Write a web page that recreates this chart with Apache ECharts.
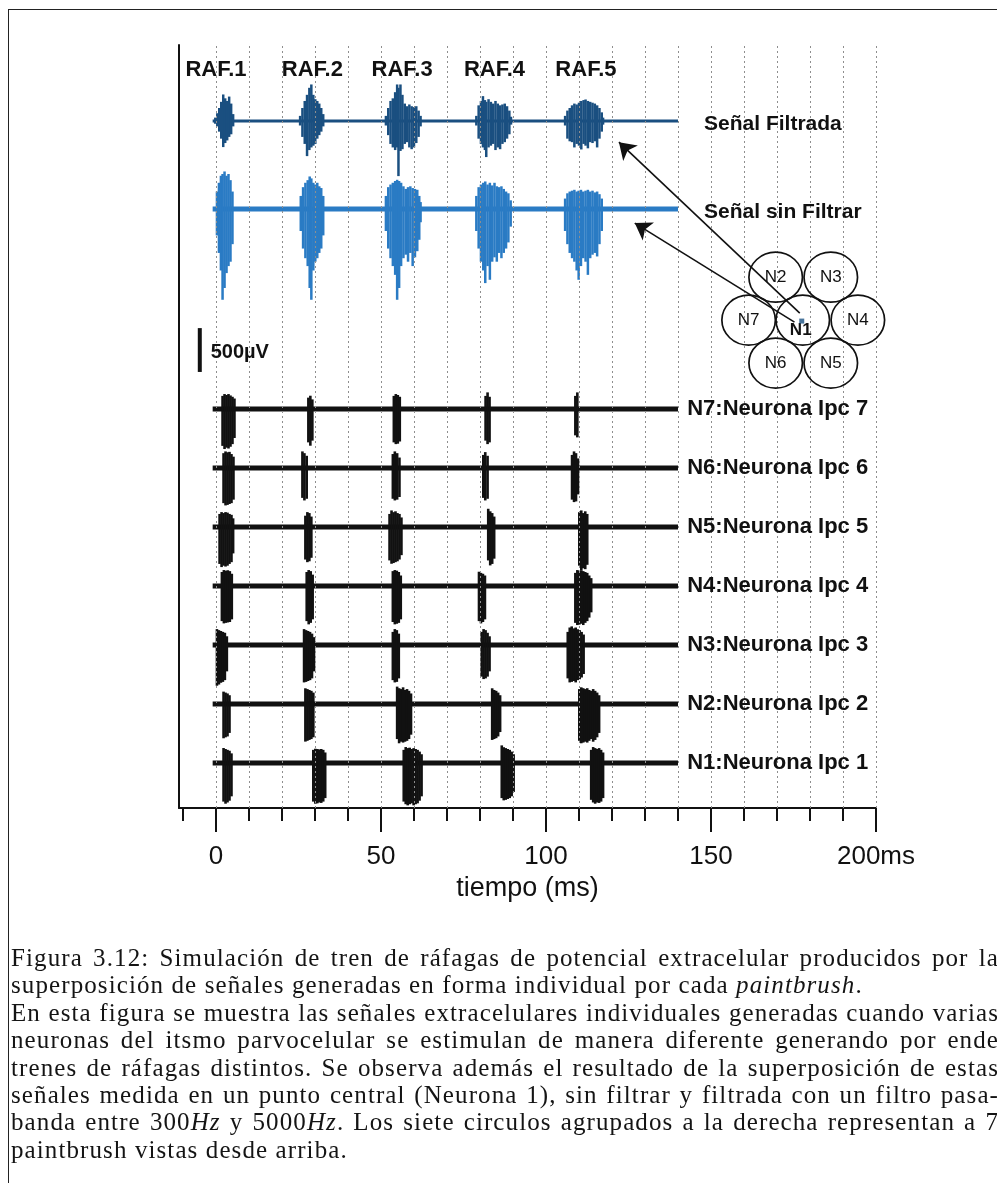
<!DOCTYPE html>
<html>
<head>
<meta charset="utf-8">
<script src="https://cdn.jsdelivr.net/npm/echarts@6/dist/echarts.min.js"></script>
<style>
  body { margin:0; background:#fff; }
  #wrap { position:relative; width:997px; height:1183px; overflow:hidden; background:#fff; }
  #chart { position:absolute; left:0; top:0; width:997px; height:1183px; }
  #frame { position:absolute; left:8px; top:9px; width:1000px; height:1200px; border-left:1.5px solid #222; border-top:1.5px solid #222; }
  #cap { position:absolute; left:11px; top:944px; width:988px; font-family:"Liberation Serif","DejaVu Serif",serif; font-size:25px; letter-spacing:1.1px; line-height:27.4px; color:#141414; }
  #cap div { white-space:nowrap; }
  #cap .j { text-align:justify; text-align-last:justify; }
  #cap .l { text-align:left; }
</style>
</head>
<body>
<div id="wrap">
  <div id="frame"></div>
  <div id="chart"></div>
  <div id="cap">
    <div class="j">Figura 3.12: Simulación de tren de ráfagas de potencial extracelular producidos por la</div>
    <div class="l">superposición de señales generadas en forma individual por cada <i>paintbrush</i>.</div>
    <div class="j">En esta figura se muestra las señales extracelulares individuales generadas cuando varias</div>
    <div class="j">neuronas del itsmo parvocelular se estimulan de manera diferente generando por ende</div>
    <div class="j">trenes de ráfagas distintos. Se observa además el resultado de la superposición de estas</div>
    <div class="j">señales medida en un punto central (Neurona 1), sin filtrar y filtrada con un filtro pasa-</div>
    <div class="j">banda entre 300<i>Hz</i> y 5000<i>Hz</i>. Los siete circulos agrupados a la derecha representan a 7</div>
    <div class="l">paintbrush vistas desde arriba.</div>
  </div>
</div>
<script>
// ---------------- DATA ----------------
// time axis (ms)
const xMinorTicks = [-10,0,10,20,30,40,50,60,70,80,90,100,110,120,130,140,150,160,170,180,190,200];
const xMajorTicks = [0,50,100,150,200];
const xTickLabels = ['0','50','100','150','200ms'];
const gridLineTimes = [0,10,20,30,40,50,60,70,80,90,100,110,120,130,140,150,160,170,180,190,200];
const traceSpan = [-1, 140];

// burst labels
const rafLabels = ['RAF.1','RAF.2','RAF.3','RAF.4','RAF.5'];
const rafTimes = [0, 29.2, 56.4, 84.4, 112.1];
const rafLevel = 8413;

// trace names and baselines (µV offset on the stacked display)
const traceNames = ['Señal Filtrada','Señal sin Filtrar','N7:Neurona Ipc 7','N6:Neurona Ipc 6','N5:Neurona Ipc 5','N4:Neurona Ipc 4','N3:Neurona Ipc 3','N2:Neurona Ipc 2','N1:Neurona Ipc 1'];
const traceBaselines = [7832, 6829, 4549, 3876, 3203, 2531, 1858, 1186, 513];
const traceLabelLevels = [7798, 6794, 4549, 3876, 3203, 2531, 1858, 1186, 513];

// spikes: [time ms, amplitude up µV, amplitude down µV]
const filteredSpikes = [
  [-0.2,40,30],[0.4,90,60],[1.0,150,120],[1.6,220,200],[2.2,304,296],[2.8,260,250],[3.4,230,220],[4.0,280,180],[4.6,200,150],[5.2,80,60],
  [25.5,60,50],[26.2,150,180],[26.9,230,260],[27.6,300,399],[28.3,380,330],[28.9,418,300],[29.5,300,280],[30.1,250,260],[30.7,230,200],[31.3,200,160],[31.9,150,120],[32.5,80,60],
  [51.5,60,50],[52.2,150,160],[52.9,230,260],[53.6,260,300],[54.3,330,330],[54.9,418,300],[55.3,380,627],[55.9,418,340],[56.5,300,320],[57.2,200,260],[57.9,170,240],[58.6,190,300],[59.3,170,320],[60.0,160,300],[60.7,170,250],[61.4,120,180],[62.0,60,60],
  [78.9,60,50],[79.6,180,200],[80.3,230,260],[80.9,285,300],[81.5,240,330],[81.9,220,410],[82.6,250,300],[83.3,220,280],[84.0,200,260],[84.7,230,330],[85.4,200,300],[86.1,180,320],[86.8,190,260],[87.5,200,240],[88.2,170,200],[88.9,120,150],[89.4,50,40],
  [105.8,60,50],[106.5,120,200],[107.2,150,230],[107.9,180,240],[108.6,200,300],[109.3,190,260],[110.0,210,280],[110.7,230,323],[111.4,240,260],[112.0,247,280],[112.7,230,310],[113.4,220,240],[114.1,210,250],[114.8,200,230],[115.5,180,300],[116.2,150,200],[116.9,100,120],[117.3,40,40]
];
const unfilteredSpikes = [
  [0.3,200,300],[0.9,300,500],[1.5,380,700],[2.0,400,1034],[2.6,429,900],[3.2,380,730],[3.8,400,650],[4.4,330,600],[5.0,200,400],
  [25.7,150,250],[26.4,250,450],[27.1,300,560],[27.8,330,650],[28.4,372,900],[28.9,350,1034],[29.5,300,700],[30.1,280,600],[30.7,300,560],[31.3,260,500],[31.9,240,450],[32.5,150,300],
  [51.5,150,250],[52.2,250,450],[52.9,280,560],[53.6,300,650],[54.3,320,750],[54.9,334,1034],[55.5,320,900],[56.1,300,650],[56.8,260,560],[57.5,230,520],[58.2,250,600],[58.9,260,500],[59.6,240,650],[60.3,230,550],[61.0,220,480],[61.6,150,350],[62.0,80,150],
  [78.9,150,250],[79.6,250,450],[80.3,280,600],[81.0,300,700],[81.6,315,844],[82.3,280,650],[83.0,300,806],[83.7,270,600],[84.4,300,550],[85.1,260,600],[85.8,250,500],[86.5,260,560],[87.2,230,500],[87.9,200,450],[88.6,180,380],[89.3,100,200],
  [105.8,120,250],[106.5,180,400],[107.2,200,500],[107.9,210,560],[108.6,220,600],[109.3,200,700],[109.9,210,806],[110.6,220,650],[111.3,200,560],[112.0,210,600],[112.7,220,750],[113.4,200,560],[114.1,210,520],[114.8,190,500],[115.5,200,540],[116.2,170,400],[116.9,120,250]
];
const n7Spikes = [
  [2.0,150,420],[2.6,171,456],[3.2,160,440],[3.8,171,450],[4.4,155,430],[5.0,140,400],[5.6,120,330],
  [28.0,130,380],[28.6,152,418],[29.2,110,360],
  [53.9,150,380],[54.5,171,400],[55.1,160,395],[55.7,140,370],
  [81.7,150,360],[82.3,190,400],[82.9,140,380],
  [108.9,150,300],[109.5,190,323]
];
const n6Spikes = [
  [2.3,170,400],[2.9,190,426],[3.5,180,420],[4.1,185,410],[4.7,160,400],[5.3,130,360],
  [26.2,190,340],[26.8,170,369],[27.5,140,350],
  [53.6,160,350],[54.2,190,369],[54.9,170,360],[55.6,120,330],
  [81.0,150,340],[81.6,182,369],[82.3,140,350],
  [107.9,150,360],[108.5,190,388],[109.1,170,380],[109.7,110,300]
];
const n5Spikes = [
  [1.1,150,420],[1.7,171,456],[2.3,160,440],[2.9,171,450],[3.5,165,440],[4.1,150,420],[4.7,140,400],[5.2,100,300],
  [27.1,130,370],[27.7,171,400],[28.3,160,390],[28.9,120,350],
  [52.6,150,380],[53.2,190,418],[53.8,170,410],[54.4,180,400],[55.0,160,390],[55.6,150,370],[56.2,110,320],
  [82.5,209,380],[83.1,180,437],[83.7,160,420],[84.3,120,360],
  [110.1,170,440],[110.7,190,494],[111.3,160,470],[111.9,180,480],[112.5,150,430]
];
const n4Spikes = [
  [1.8,160,400],[2.4,182,426],[3.0,175,420],[3.6,180,415],[4.2,170,410],[4.8,140,380],
  [27.5,160,400],[28.1,182,437],[28.7,170,420],[29.3,130,380],
  [53.6,170,410],[54.2,182,437],[54.8,175,430],[55.4,160,420],[56.0,120,380],
  [79.7,163,400],[80.3,150,426],[80.9,140,410],[81.5,120,380],
  [108.9,150,420],[109.5,182,445],[110.1,175,440],[110.7,180,430],[111.3,170,445],[111.9,160,420],[112.5,150,400],[113.1,120,360],[113.7,90,300]
];
const n3Spikes = [
  [0.3,182,464],[0.9,170,450],[1.5,160,430],[2.1,150,420],[2.7,140,400],[3.3,100,300],
  [26.7,182,426],[27.3,170,420],[27.9,160,410],[28.5,150,400],[29.1,130,380],[29.7,90,300],
  [53.6,150,400],[54.2,182,426],[54.8,170,420],[55.4,130,380],
  [80.5,150,360],[81.1,182,388],[81.7,170,380],[82.3,140,360],[82.9,100,300],
  [106.6,150,380],[107.2,200,426],[107.8,213,420],[108.4,190,410],[109.0,200,426],[109.6,180,400],[110.2,170,390],[110.8,150,370],[111.4,120,330]
];
const n2Spikes = [
  [2.3,141,391],[2.9,130,380],[3.5,120,370],[4.1,100,330],
  [27.1,179,429],[27.7,170,420],[28.3,160,410],[28.9,150,400],[29.5,130,380],
  [54.9,198,400],[55.5,180,448],[56.1,170,430],[56.7,190,440],[57.3,160,430],[57.9,170,420],[58.5,150,400],[59.1,120,350],
  [83.7,179,410],[84.3,160,400],[84.9,150,390],[85.5,130,370],[86.1,100,320],
  [110.1,170,420],[110.7,190,448],[111.3,180,440],[111.9,170,430],[112.5,180,440],[113.1,160,420],[113.7,150,400],[114.3,170,430],[114.9,150,410],[115.5,130,380],[116.1,100,330]
];
const n1Spikes = [
  [2.3,171,440],[2.9,160,464],[3.5,150,450],[4.1,140,430],[4.7,110,380],
  [29.5,150,440],[30.1,163,464],[30.7,160,460],[31.3,155,450],[31.9,160,455],[32.5,150,440],[33.1,120,400],
  [56.9,150,440],[57.5,182,470],[58.1,170,483],[58.7,175,470],[59.3,160,460],[59.9,170,483],[60.5,160,470],[61.1,150,460],[61.7,130,430],[62.3,100,380],
  [86.6,201,400],[87.2,180,426],[87.8,170,420],[88.4,160,410],[89.0,150,400],[89.6,130,380],[90.2,100,330],
  [113.7,150,420],[114.3,182,450],[114.9,170,464],[115.5,160,450],[116.1,170,455],[116.7,150,440],[117.3,120,400]
];
const traceSpikes = [filteredSpikes, unfilteredSpikes, n7Spikes, n6Spikes, n5Spikes, n4Spikes, n3Spikes, n2Spikes, n1Spikes];

// scale bar (500 µV)
const scaleBarTime = -4.9;
const scaleBarFrom = 4972;
const scaleBarTo = 5472;
const scaleBarLabel = '500µV';
const scaleBarLabelPos = [-1.6, 5198];

// paintbrush diagram (centres in time / µV display coordinates)
const circleNames = ['N2','N3','N7','N1','N4','N6','N5'];
const circleTimes = [169.6, 186.3, 161.4, 177.8, 194.5, 169.6, 186.3];
const circleLevels = [6053, 6053, 5563, 5563, 5563, 5073, 5073];
const electrodePos = [177.5, 5552];

// arrows from N1 to the recorded signals
const arrowFrom = [[176.9, 5643], [175.3, 5540]];
const arrowTo = [[122.1, 7592], [126.9, 6669]];

// ---------------- STYLE / OPTION ----------------
const traceColors = ['#1a4f80', '#2a7bc4', '#111', '#111', '#111', '#111', '#111', '#111', '#111'];
const baseWidths = [3, 5, 5, 5, 5, 5, 5, 5, 5];
const spikeWidths = [2.5, 2.5, 2.6, 2.6, 2.6, 2.6, 2.6, 2.6, 2.6];
const SANS = '"Liberation Sans", Arial, Helvetica, sans-serif';

function spikeSeries(i) {
  const base = traceBaselines[i];
  return {
    type: 'custom', coordinateSystem: 'cartesian2d', silent: true, z: 4,
    data: traceSpikes[i].map(s => [s[0], base + s[1], base - s[2]]),
    encode: { x: 0, y: [1, 2] },
    renderItem: function (params, api) {
      const t = api.value(0);
      const p1 = api.coord([t, api.value(1)]);
      const p2 = api.coord([t, api.value(2)]);
      return { type: 'line', shape: { x1: p1[0], y1: p1[1], x2: p2[0], y2: p2[1] },
               style: { stroke: traceColors[i], lineWidth: spikeWidths[i] } };
    }
  };
}
function baselineSeries(i) {
  return {
    type: 'line', silent: true, symbol: 'none', z: 3,
    data: [[traceSpan[0], traceBaselines[i]], [traceSpan[1], traceBaselines[i]]],
    lineStyle: { color: traceColors[i], width: baseWidths[i] }
  };
}
function textSeries(items, style) {
  return {
    type: 'custom', coordinateSystem: 'cartesian2d', silent: true, z: 10,
    data: items.map(d => [d[0], d[1]]),
    encode: { x: 0, y: 1 },
    renderItem: function (params, api) {
      const p = api.coord([api.value(0), api.value(1)]);
      return { type: 'text', x: p[0], y: p[1],
               style: Object.assign({ text: items[params.dataIndex][2] }, style) };
    }
  };
}

const series = [];
// dotted grid
series.push({
  type: 'line', data: [], silent: true, z: 1,
  markLine: {
    silent: true, symbol: ['none', 'none'], label: { show: false },
    lineStyle: { type: [2, 3], color: '#8e8e8e', width: 1 },
    data: gridLineTimes.map(v => ({ xAxis: v }))
  }
});
for (let i = 0; i < traceBaselines.length; i++) {
  series.push(baselineSeries(i));
  series.push(spikeSeries(i));
}
// RAF labels
series.push(textSeries(rafLabels.map((l, i) => [rafTimes[i], rafLevel, l]),
  { fill: '#111', fontFamily: SANS, fontWeight: 'bold', fontSize: 22, align: 'center', verticalAlign: 'middle' }));
// trace labels (right side)
series.push(textSeries(traceNames.map((l, i) => [147.9, traceLabelLevels[i], l]).slice(0, 2),
  { fill: '#111', fontFamily: SANS, fontWeight: 'bold', fontSize: 21, align: 'left', verticalAlign: 'middle' }));
series.push(textSeries(traceNames.map((l, i) => [142.8, traceLabelLevels[i], l]).slice(2),
  { fill: '#111', fontFamily: SANS, fontWeight: 'bold', fontSize: 22, align: 'left', verticalAlign: 'middle' }));
// scale bar
series.push({
  type: 'custom', coordinateSystem: 'cartesian2d', silent: true, z: 6,
  data: [[scaleBarTime, scaleBarTo, scaleBarFrom]],
  encode: { x: 0, y: [1, 2] },
  renderItem: function (params, api) {
    const p1 = api.coord([api.value(0), api.value(1)]);
    const p2 = api.coord([api.value(0), api.value(2)]);
    return { type: 'line', shape: { x1: p1[0], y1: p1[1], x2: p2[0], y2: p2[1] },
             style: { stroke: '#111', lineWidth: 4 } };
  }
});
series.push(textSeries([[scaleBarLabelPos[0], scaleBarLabelPos[1], scaleBarLabel]],
  { fill: '#111', fontFamily: SANS, fontWeight: 'bold', fontSize: 20, align: 'left', verticalAlign: 'middle' }));
// paintbrush circles
series.push({
  type: 'custom', coordinateSystem: 'cartesian2d', silent: true, z: 7,
  data: circleNames.map((n, i) => [circleTimes[i], circleLevels[i]]),
  encode: { x: 0, y: 1 },
  renderItem: function (params, api) {
    const p = api.coord([api.value(0), api.value(1)]);
    const name = circleNames[params.dataIndex];
    const isN1 = name === 'N1';
    return {
      type: 'group', x: p[0], y: p[1],
      children: [
        { type: 'circle', shape: { cx: 0, cy: 0, r: 25 }, scaleX: 1.07,
          style: { fill: 'rgba(255,255,255,0)', stroke: '#111', lineWidth: 1.6 } },
        { type: 'text', x: isN1 ? -2 : 0, y: isN1 ? 10 : 0,
          style: { text: name, fill: '#111', fontFamily: SANS, fontSize: 17,
                   fontWeight: isN1 ? 'bold' : 'normal', align: 'center', verticalAlign: 'middle' } }
      ]
    };
  }
});
// electrode dot
series.push({
  type: 'scatter', silent: true, z: 8, symbol: 'rect', symbolSize: 5,
  itemStyle: { color: '#1c5283' }, data: [electrodePos]
});
// arrows
series.push({
  type: 'lines', coordinateSystem: 'cartesian2d', silent: true, z: 9,
  symbol: ['none', 'arrow'], symbolSize: 16,
  lineStyle: { color: '#111', width: 1.6, opacity: 1 },
  data: arrowFrom.map((f, i) => ({ coords: [f, arrowTo[i]] }))
});

const option = {
  animation: false,
  backgroundColor: 'transparent',
  grid: { left: 179, right: 121, top: 45, bottom: 375, containLabel: false },
  xAxis: [
    { type: 'value', min: -11.2, max: 200, position: 'bottom',
      axisLine: { show: true, onZero: false, lineStyle: { color: '#111', width: 2 } },
      axisTick: { show: true, customValues: xMinorTicks, length: 13, lineStyle: { color: '#111', width: 2 } },
      axisLabel: { show: false }, splitLine: { show: false } },
    { type: 'value', min: -11.2, max: 200, position: 'bottom',
      axisLine: { show: false, onZero: false },
      axisTick: { show: true, customValues: xMajorTicks, length: 24, lineStyle: { color: '#111', width: 2 } },
      axisLabel: { show: true, customValues: xMajorTicks, margin: 36,
        formatter: v => xTickLabels[xMajorTicks.indexOf(v)],
        color: '#111', fontFamily: SANS, fontSize: 26 },
      splitLine: { show: false },
      name: 'tiempo (ms)', nameLocation: 'middle', nameGap: 67,
      nameTextStyle: { color: '#111', fontFamily: SANS, fontSize: 27 } }
  ],
  yAxis: { type: 'value', min: 0, max: 8700,
    axisLine: { show: true, onZero: false, lineStyle: { color: '#111', width: 2 } },
    axisTick: { show: false }, axisLabel: { show: false }, splitLine: { show: false } },
  series: series
};

const chart = echarts.init(document.getElementById('chart'), null, { renderer: 'canvas' });
chart.setOption(option);
</script>
</body>
</html>
